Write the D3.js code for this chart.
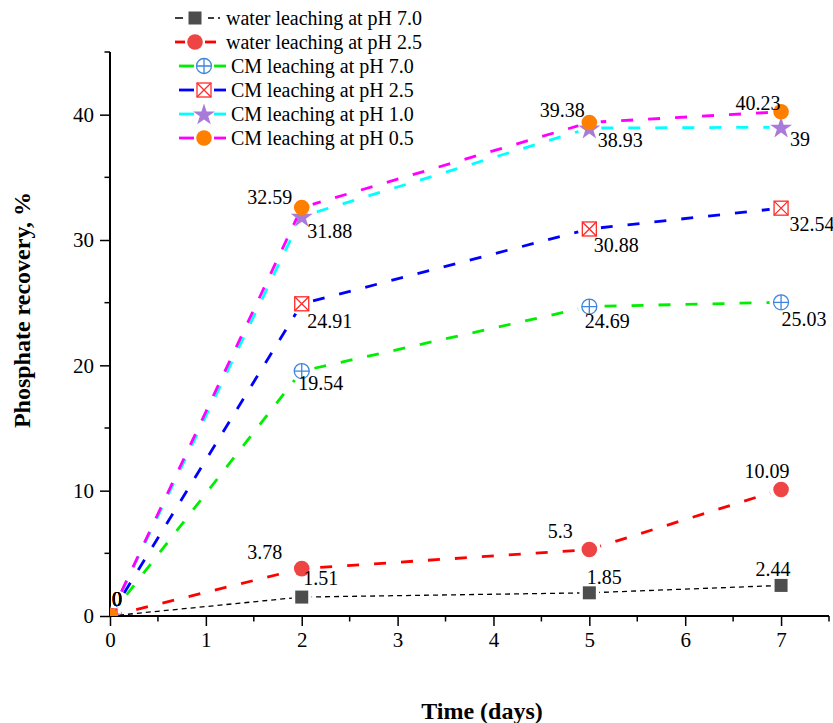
<!DOCTYPE html>
<html><head><meta charset="utf-8">
<script src="https://cdn.jsdelivr.net/npm/d3@7"></script>
<style>
html,body{margin:0;padding:0;background:#fff;}
text{font-family:"Liberation Serif","Times New Roman",serif;}
</style></head>
<body>
<svg id="chart" width="833" height="723"></svg>
<script>
// ---- data ----
const days = [0, 2, 5, 7];
const seriesNames = [
  "water leaching at pH 7.0",
  "water leaching at pH 2.5",
  "CM leaching at pH 7.0",
  "CM leaching at pH 2.5",
  "CM leaching at pH 1.0",
  "CM leaching at pH 0.5"
];
const waterPH70 = [0, 1.51, 1.85, 2.44];
const waterPH25 = [0, 3.78, 5.3, 10.09];
const cmPH70 = [0, 19.54, 24.69, 25.03];
const cmPH25 = [0, 24.91, 30.88, 32.54];
const cmPH10 = [0, 31.88, 38.93, 39];
const cmPH05 = [0, 32.59, 39.38, 40.23];
const xTicks = [0, 1, 2, 3, 4, 5, 6, 7];
const yTicks = [0, 10, 20, 30, 40];

// ---- styles / layout ----
const lineColors = ["#000000", "#ff0000", "#00ee00", "#0000ff", "#00ffff", "#ff00ff"];
const markerTypes = ["square", "circle", "circlePlus", "squareX", "star", "circle"];
const markerColors = ["#4d4d4d", "#ee4444", "#3d85e0", "#ff2a2a", "#a97bd9", "#ff8000"];
// label offsets (dx, dy of text centre from marker) for each point
const labelOffsets = [
  [[7,-17],[19,-19],[15,-16],[-8,-16]],
  [[7,-17],[-37,-17],[-29,-19],[-14,-19]],
  [[7,-17],[19,12],[18,14],[23,17]],
  [[7,-17],[28,17],[27,16],[31,16]],
  [[7,-17],[28,15],[31,12],[19,12]],
  [[7,-17],[-32,-11],[-27,-12],[-23,-9]]
];
const allValues = [waterPH70, waterPH25, cmPH70, cmPH25, cmPH10, cmPH05];

const svg = d3.select("#chart");
const pLeft = 110, pRight = 829, pTop = 52, pBottom = 616;
const x = d3.scaleLinear().domain([0, 7.5]).range([pLeft, pRight]);
const y = d3.scaleLinear().domain([0, 45]).range([pBottom, pTop]);

const defs = svg.append("defs");
defs.append("clipPath").attr("id", "plotClip")
  .append("rect").attr("x", pLeft).attr("y", 0).attr("width", 833 - pLeft).attr("height", pBottom);

// masks for gaps around markers
allValues.forEach((vals, i) => {
  const m = defs.append("mask").attr("id", "gap" + i).attr("maskUnits", "userSpaceOnUse")
    .attr("x", 0).attr("y", 0).attr("width", 833).attr("height", 723);
  m.append("rect").attr("width", 833).attr("height", 723).attr("fill", "white");
  vals.forEach((v, j) => {
    m.append("circle").attr("cx", x(days[j])).attr("cy", y(v)).attr("r", i === 0 ? 10 : 11.5).attr("fill", "black");
  });
});

// axes
const xAxis = d3.axisBottom(x).tickValues(xTicks).tickSize(10).tickPadding(6).tickFormat(d3.format("d"));
const yAxis = d3.axisLeft(y).tickValues(yTicks).tickSize(10).tickPadding(6).tickFormat(d3.format("d"));

const gx = svg.append("g").attr("transform", `translate(0,${pBottom})`).call(xAxis);
gx.select(".domain").attr("d", `M${pLeft},0H${pRight}`);
gx.selectAll(".minor").data(d3.range(0.5, 8, 1)).enter().append("line")
  .attr("x1", d => x(d)).attr("x2", d => x(d)).attr("y1", 0).attr("y2", 5.5).attr("stroke", "#000").attr("stroke-width", 1.5);

const gy = svg.append("g").attr("transform", `translate(${pLeft},0)`).call(yAxis);
gy.select(".domain").attr("d", `M0,${pBottom}V${pTop}`);
gy.selectAll(".minor").data([5, 15, 25, 35, 45]).enter().append("line")
  .attr("x1", 0).attr("x2", -5.5).attr("y1", d => y(d)).attr("y2", d => y(d)).attr("stroke", "#000").attr("stroke-width", 1.5);

[gx, gy].forEach(g => {
  g.attr("font-family", null);
  g.select(".domain").attr("stroke", "#000").attr("stroke-width", 2);
  g.selectAll(".tick line").attr("stroke", "#000").attr("stroke-width", 1.5);
  g.selectAll(".tick text").attr("font-family", "Liberation Serif").attr("font-size", 21).attr("fill", "#000");
});

// axis titles
svg.append("text").attr("x", 482).attr("y", 719).attr("text-anchor", "middle")
  .attr("font-size", 24).attr("font-weight", "bold").text("Time (days)");
svg.append("text").attr("transform", "translate(30,310) rotate(-90)").attr("text-anchor", "middle")
  .attr("font-size", 24).attr("font-weight", "bold").text("Phosphate recovery, %");

function drawMarker(g, type, color, cx, cy) {
  if (type === "square") {
    g.append("rect").attr("x", cx - 6.5).attr("y", cy - 6.5).attr("width", 13).attr("height", 13).attr("fill", color);
  } else if (type === "circle") {
    g.append("circle").attr("cx", cx).attr("cy", cy).attr("r", 7.8).attr("fill", color);
  } else if (type === "circlePlus") {
    g.append("circle").attr("cx", cx).attr("cy", cy).attr("r", 7.5).attr("fill", "#fff").attr("stroke", color).attr("stroke-width", 1.3);
    g.append("path").attr("d", `M${cx - 7.5},${cy}H${cx + 7.5}M${cx},${cy - 7.5}V${cy + 7.5}`).attr("stroke", color).attr("stroke-width", 1.3);
  } else if (type === "squareX") {
    g.append("rect").attr("x", cx - 7).attr("y", cy - 7).attr("width", 14).attr("height", 14).attr("fill", "#fff").attr("stroke", color).attr("stroke-width", 1.3);
    g.append("path").attr("d", `M${cx - 7},${cy - 7}L${cx + 7},${cy + 7}M${cx + 7},${cy - 7}L${cx - 7},${cy + 7}`).attr("stroke", color).attr("stroke-width", 1.3);
  } else if (type === "star") {
    g.append("path").attr("d", d3.symbol(d3.symbolStar, 150)()).attr("transform", `translate(${cx},${cy + 1})`).attr("fill", color);
  }
}

const line = d3.line().x((d, j) => x(days[j])).y(d => y(d)).curve(d3.curveLinear);
const plot = svg.append("g").attr("clip-path", "url(#plotClip)");

allValues.forEach((vals, i) => {
  plot.append("path").attr("d", line(vals)).attr("fill", "none")
    .attr("stroke", lineColors[i]).attr("stroke-width", i === 0 ? 1.3 : 2.8)
    .attr("stroke-dasharray", i === 0 ? "5,4" : "12,15")
    .attr("mask", `url(#gap${i})`);
});
allValues.forEach((vals, i) => {
  vals.forEach((v, j) => drawMarker(plot, markerTypes[i], markerColors[i], x(days[j]), y(v)));
});
allValues.forEach((vals, i) => {
  vals.forEach((v, j) => {
    const o = labelOffsets[i][j];
    svg.append("text").attr("x", x(days[j]) + o[0]).attr("y", y(v) + o[1]).attr("dy", "0.35em")
      .attr("text-anchor", "middle").attr("font-size", 20).attr("fill", "#000").text(String(v));
  });
});

// legend
const legendRows = [18, 42, 66, 90, 114, 138];
const legend = svg.append("g");
seriesNames.forEach((name, i) => {
  const g = legend.append("g");
  const cy = legendRows[i];
  const x0 = i < 2 ? 175 : 179, x1 = i < 2 ? 216 : 226, mx = i < 2 ? 195 : 204, tx = i < 2 ? 226 : 231;
  if (i === 0) {
    g.append("line").attr("x1", x0).attr("x2", 221).attr("y1", cy).attr("y2", cy)
      .attr("stroke", "#000").attr("stroke-width", 1.3).attr("stroke-dasharray", "8,25,6,4,2");
  } else {
    g.append("line").attr("x1", x0).attr("x2", mx - 10).attr("y1", cy).attr("y2", cy)
      .attr("stroke", lineColors[i]).attr("stroke-width", 2.8);
    g.append("line").attr("x1", mx + 10).attr("x2", x1).attr("y1", cy).attr("y2", cy)
      .attr("stroke", lineColors[i]).attr("stroke-width", 2.8);
  }
  drawMarker(g, markerTypes[i], markerColors[i], mx, cy);
  g.append("text").attr("x", tx).attr("y", cy).attr("dy", "0.35em").attr("font-size", 20).attr("fill", "#000").text(name);
});
</script>
</body></html>
